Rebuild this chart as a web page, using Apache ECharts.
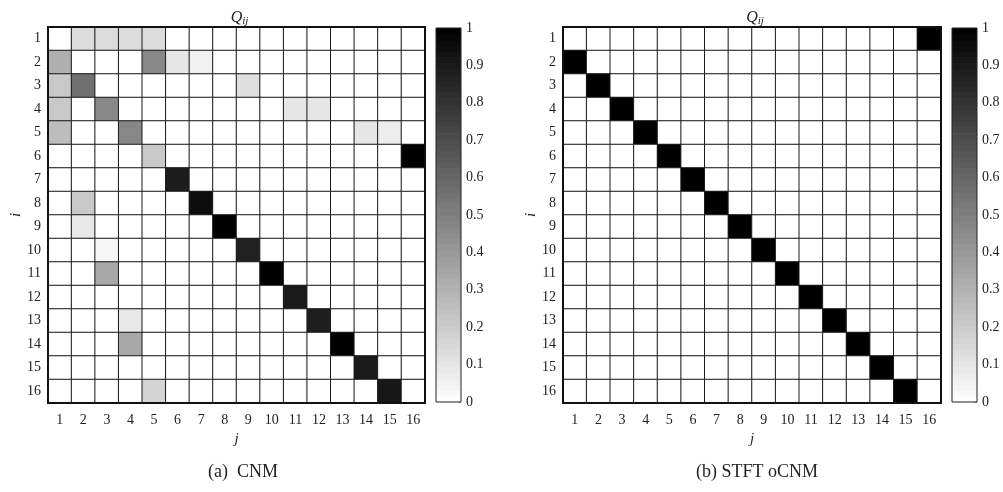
<!DOCTYPE html>
<html>
<head>
<meta charset="utf-8">
<script src="https://cdn.jsdelivr.net/npm/echarts@6/dist/echarts.min.js"></script>
<style>
  html, body { margin: 0; padding: 0; background: #fff; }
  #chart { width: 1003px; height: 492px; }
</style>
</head>
<body>
<div id="chart"></div>
<script>
// Index labels for rows (i) and columns (j)
const indexLabels = ['1','2','3','4','5','6','7','8','9','10','11','12','13','14','15','16'];

// Non-zero transition entries [i, j, Q_ij] (1-based), CNM
const cnmEntries = [
  [1, 2, 0.14], [1, 3, 0.14], [1, 4, 0.14], [1, 5, 0.14],
  [2, 1, 0.31], [2, 5, 0.47], [2, 6, 0.10], [2, 7, 0.06],
  [3, 1, 0.21], [3, 2, 0.56], [3, 9, 0.13],
  [4, 1, 0.21], [4, 3, 0.47], [4, 11, 0.10], [4, 12, 0.10],
  [5, 1, 0.26], [5, 4, 0.47], [5, 14, 0.10], [5, 15, 0.07],
  [6, 5, 0.21], [6, 16, 1.00],
  [7, 6, 0.89],
  [8, 2, 0.21], [8, 7, 0.95],
  [9, 2, 0.09], [9, 8, 1.00],
  [10, 3, 0.03], [10, 9, 0.87],
  [11, 3, 0.34], [11, 10, 1.00],
  [12, 11, 0.90],
  [13, 4, 0.09], [13, 12, 0.88],
  [14, 4, 0.34], [14, 13, 1.00],
  [15, 14, 0.90],
  [16, 5, 0.17], [16, 15, 0.91]
];

// Non-zero transition entries [i, j, Q_ij] (1-based), STFT oCNM
const stftEntries = [
  [1, 16, 1], [2, 1, 1], [3, 2, 1], [4, 3, 1], [5, 4, 1], [6, 5, 1],
  [7, 6, 1], [8, 7, 1], [9, 8, 1], [10, 9, 1], [11, 10, 1], [12, 11, 1],
  [13, 12, 1], [14, 13, 1], [15, 14, 1], [16, 15, 1]
];

// Colorbar tick values
const colorbarTicks = [0, 0.1, 0.2, 0.3, 0.4, 0.5, 0.6, 0.7, 0.8, 0.9, 1];
const colorLevels = 64;

const FONT = '"Liberation Serif", "DejaVu Serif", serif';
const TXT = '#222';

// Full 16x16 matrix as heatmap items [col, row, value]
function toMatrix(entries) {
  const n = indexLabels.length;
  const m = [];
  for (let r = 0; r < n; r++) for (let c = 0; c < n; c++) m.push([c, r, 0]);
  entries.forEach(([i, j, v]) => { m[(i - 1) * n + (j - 1)][2] = v; });
  return m;
}

// Colorbar bands [x, from, to]
const bands = [];
for (let k = 0; k < colorLevels; k++) bands.push([0, k / colorLevels, (k + 1) / colorLevels]);

function grayOf(v) {
  const g = Math.round(255 * (1 - v));
  return 'rgb(' + g + ',' + g + ',' + g + ')';
}

const layouts = [
  { grid: { left: 48, top: 27, width: 377, height: 376 }, bar: { left: 436, top: 28, width: 25, height: 374 }, caption: '(a)  CNM', cx: 238, data: toMatrix(cnmEntries) },
  { grid: { left: 563, top: 27, width: 378, height: 376 }, bar: { left: 952, top: 28, width: 25, height: 374 }, caption: '(b) STFT oCNM', cx: 752, data: toMatrix(stftEntries) }
];

const option = {
  backgroundColor: '#fff',
  animation: false,
  textStyle: { fontFamily: FONT },
  title: [],
  grid: [],
  xAxis: [],
  yAxis: [],
  visualMap: [],
  series: []
};

layouts.forEach((L, p) => {
  const gi = p * 2, bi = p * 2 + 1;
  option.grid.push(Object.assign({ show: true, borderColor: '#111', borderWidth: 2, backgroundColor: 'transparent', z: 5 }, L.grid));
  option.grid.push(Object.assign({ show: true, borderColor: '#222', borderWidth: 1, backgroundColor: 'transparent', z: 5 }, L.bar));

  option.title.push({
    text: '{q|Q}{s|ij}',
    left: L.grid.left + L.grid.width / 2 - 2, top: 3, textAlign: 'center',
    textStyle: {
      fontWeight: 'normal',
      rich: {
        q: { fontFamily: FONT, fontStyle: 'italic', fontWeight: 'normal', fontSize: 16, color: TXT, lineHeight: 19 },
        s: { fontFamily: FONT, fontStyle: 'italic', fontWeight: 'normal', fontSize: 11, color: TXT, verticalAlign: 'bottom', lineHeight: 14 }
      }
    }
  });
  option.title.push({
    text: L.caption, left: L.cx, top: 458, textAlign: 'center',
    textStyle: { fontFamily: FONT, fontSize: 18, fontWeight: 'normal', color: TXT }
  });

  option.xAxis.push({
    type: 'category', gridIndex: gi, data: indexLabels, position: 'bottom',
    name: 'j', nameLocation: 'middle', nameGap: 29,
    nameTextStyle: { fontFamily: FONT, fontStyle: 'italic', fontSize: 15, color: TXT },
    axisLine: { show: false }, axisTick: { show: false },
    axisLabel: { fontFamily: FONT, fontSize: 14, color: TXT, margin: 10 },
    splitLine: { show: false }
  });
  option.yAxis.push({
    type: 'category', gridIndex: gi, data: indexLabels, inverse: true,
    name: 'i', nameLocation: 'middle', nameGap: 23, nameRotate: 90,
    nameTextStyle: { fontFamily: FONT, fontStyle: 'italic', fontSize: 15, color: TXT },
    axisLine: { show: false }, axisTick: { show: false },
    axisLabel: { fontFamily: FONT, fontSize: 14, color: TXT, margin: 7 },
    splitLine: { show: false }
  });

  option.xAxis.push({
    type: 'category', gridIndex: bi, data: ['cb'], show: false
  });
  option.yAxis.push({
    type: 'value', gridIndex: bi, min: 0, max: 1, interval: 0.1, position: 'right',
    axisLine: { show: false },
    axisTick: { show: true, inside: true, length: 3, lineStyle: { color: '#222' } },
    axisLabel: { fontFamily: FONT, fontSize: 14, color: TXT, margin: 5 },
    splitLine: { show: false }
  });

  option.series.push({
    type: 'heatmap', xAxisIndex: gi, yAxisIndex: gi, data: L.data,
    itemStyle: { borderColor: '#1a1a1a', borderWidth: 1 },
    emphasis: { disabled: true }
  });
  option.visualMap.push({
    type: 'continuous', show: false, min: 0, max: 1, dimension: 2,
    seriesIndex: option.series.length - 1,
    inRange: { color: ['#ffffff', '#000000'] }
  });

  option.series.push({
    type: 'custom', xAxisIndex: bi, yAxisIndex: bi, data: bands,
    encode: { x: 0, y: [1, 2] },
    silent: true,
    renderItem: function (params, api) {
      const a = api.coord([0, api.value(1)]);
      const b = api.coord([0, api.value(2)]);
      const w = api.size([1, 0])[0];
      return {
        type: 'rect',
        shape: { x: a[0] - w / 2, y: b[1], width: w, height: a[1] - b[1] + 0.6 },
        style: { fill: grayOf((api.value(1) + api.value(2)) / 2) }
      };
    }
  });
});

const chart = echarts.init(document.getElementById('chart'), null, { renderer: 'canvas' });
chart.setOption(option);
</script>
</body>
</html>
